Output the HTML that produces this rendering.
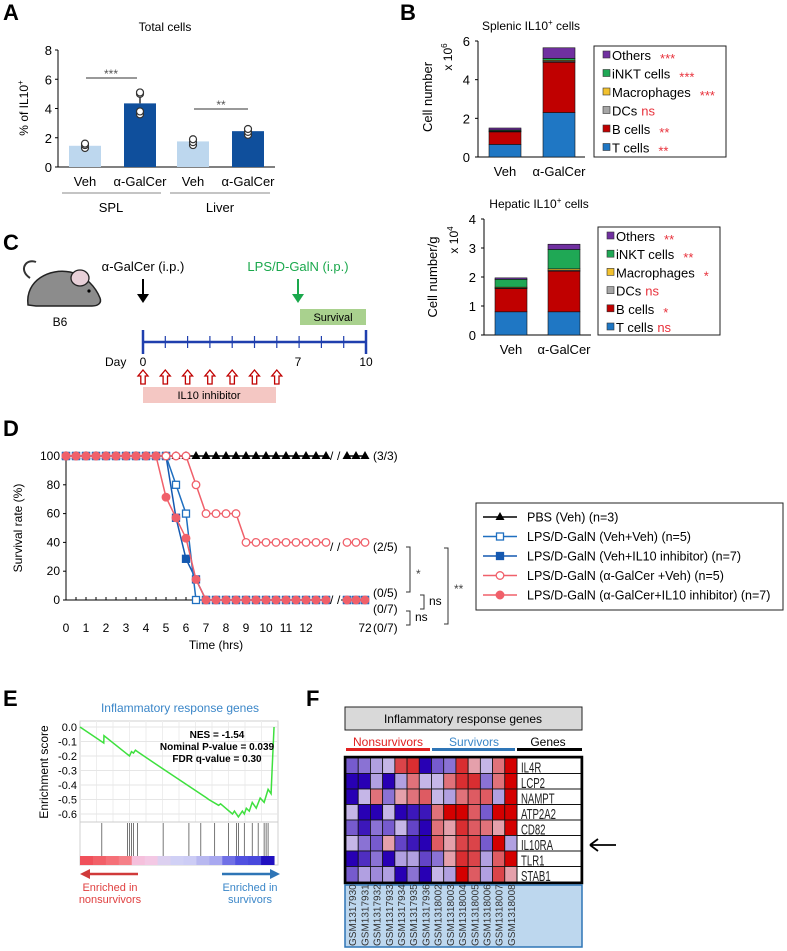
<!DOCTYPE html>
<html><head><meta charset="utf-8">
<style>
body{margin:0;background:#fff;}
svg{display:block;font-family:"Liberation Sans",Arial,sans-serif;}
</style></head>
<body>
<svg id="fig" width="787" height="951" viewBox="0 0 787 951" xmlns="http://www.w3.org/2000/svg">
<g font-weight="bold" font-size="22" fill="#000">
<text x="3" y="20">A</text>
<text x="400" y="20">B</text>
<text x="3" y="250">C</text>
<text x="3" y="436">D</text>
<text x="3" y="706">E</text>
<text x="306" y="706">F</text>
</g>
<g id="pa"></g>
<g id="pb1"></g>
<g id="pb2"></g>
<g font-size="13">
<g>
<path d="M30 278 C18 270 26 258 36 262" fill="none" stroke="#333" stroke-width="2"/>
<path d="M28 305 C25 280 50 268 70 272 C86 275 96 288 100 298 C102 303 98 306 92 306 L36 306 Z" fill="#8c8c8c" stroke="#222" stroke-width="1.5"/>
<ellipse cx="80" cy="278" rx="9" ry="8" fill="#e8d0d8" stroke="#222" stroke-width="1.3"/>
<circle cx="89" cy="291" r="1.6" fill="#000"/>
</g>
<text x="60" y="326" text-anchor="middle" font-size="12">B6</text>
<text x="143" y="271" text-anchor="middle">α-GalCer (i.p.)</text>
<line x1="143" y1="279" x2="143" y2="296" stroke="#000" stroke-width="2"/>
<polygon points="137,294 149,294 143,303" fill="#000"/>
<text x="298" y="271" text-anchor="middle" fill="#1aa84c">LPS/D-GalN (i.p.)</text>
<line x1="298" y1="279" x2="298" y2="296" stroke="#1aa84c" stroke-width="2"/>
<polygon points="292,294 304,294 298,303" fill="#1aa84c"/>
<rect x="300" y="309" width="66" height="16" fill="#a9d18e"/>
<text x="333" y="321" text-anchor="middle" font-size="11">Survival</text>
<g id="timeline"></g>
<text x="105" y="366" font-size="12">Day</text>
<text x="143" y="366" text-anchor="middle" font-size="12">0</text>
<text x="298" y="366" text-anchor="middle" font-size="12">7</text>
<text x="366" y="366" text-anchor="middle" font-size="12">10</text>
<g id="inhib"></g>
<rect x="143" y="387" width="133" height="16" fill="#f4c7c3"/>
<text x="209" y="399" text-anchor="middle" font-size="11">IL10 inhibitor</text>
</g>
<g id="pd"></g>
<g id="pe"></g>
<g id="pf"></g>
</svg>
<script>
const NS="http://www.w3.org/2000/svg";
function mk(parent,tag,attrs,text){const e=document.createElementNS(NS,tag);for(const k in attrs)e.setAttribute(k,attrs[k]);if(text!==undefined)e.textContent=text;parent.appendChild(e);return e;}

/* ---------- Panel A data ---------- */
const aCategories=["Veh","α-GalCer","Veh","α-GalCer"];
const aValues=[1.45,4.35,1.75,2.45];
const aErrors=[0.15,0.45,0.15,0.2];
const aPoints=[[1.3,1.5,1.6],[3.6,3.8,5.0,5.1],[1.5,1.7,1.9],[2.2,2.4,2.6]];
const aTicks=[0,2,4,6,8];
/* ---------- Panel B data ---------- */
const bLayers=["T cells","B cells","DCs","Macrophages","iNKT cells","Others"];
const bColors=["#1f77c4","#c00000","#a6a6a6","#f2c12e","#1fa855","#7030a0"];
const bCats=["Veh","α-GalCer"];
const splVeh=[0.65,0.65,0.02,0.03,0.05,0.1];
const splGal=[2.3,2.6,0.05,0.05,0.1,0.55];
const splSig=["**","**","ns","***","***","***"];
const splTicks=[0,2,4,6];
const hepVeh=[0.8,0.8,0.02,0.03,0.27,0.05];
const hepGal=[0.8,1.4,0.03,0.05,0.67,0.18];
const hepSig=["ns","*","ns","*","**","**"];
const hepTicks=[0,1,2,3,4];
/* ---------- Panel D data ---------- */
const dTimes=[0,0.5,1,1.5,2,2.5,3,3.5,4,4.5,5,5.5,6,6.5,7,7.5,8,8.5,9,9.5,10,10.5,11,11.5,12,12.5,13,70,71,72];
const pbsSurv=[100,100,100,100,100,100,100,100,100,100,100,100,100,100,100,100,100,100,100,100,100,100,100,100,100,100,100,100,100,100];
const vehVehSurv=[100,100,100,100,100,100,100,100,100,100,100,80,60,0,0,0,0,0,0,0,0,0,0,0,0,0,0,0,0,0];
const vehIlSurv=[100,100,100,100,100,100,100,100,100,100,100,57.1,28.6,14.3,0,0,0,0,0,0,0,0,0,0,0,0,0,0,0,0];
const galVehSurv=[100,100,100,100,100,100,100,100,100,100,100,100,100,80,60,60,60,60,40,40,40,40,40,40,40,40,40,40,40,40];
const galIlSurv=[100,100,100,100,100,100,100,100,100,100,71.4,57.1,42.9,14.3,0,0,0,0,0,0,0,0,0,0,0,0,0,0,0,0];
const dYTicks=[0,20,40,60,80,100];
const dXTicks=["0","1","2","3","4","5","6","7","8","9","10","11","12"];
/* ---------- Panel E data ---------- */
const esRank=[0,0.12,0.121,0.25,0.26,0.27,0.28,0.29,0.42,0.64,0.65,0.70,0.71,0.77,0.78,0.80,0.82,0.83,0.84,0.855,0.87,0.89,0.91,0.93,0.95,0.965,0.97,0.98];
const esScore=[0,-0.11,-0.06,-0.2,-0.17,-0.18,-0.16,-0.17,-0.29,-0.49,-0.5,-0.54,-0.53,-0.6,-0.58,-0.62,-0.58,-0.6,-0.56,-0.58,-0.52,-0.56,-0.49,-0.52,-0.43,-0.46,-0.3,0];
const esHits=[0.11,0.24,0.25,0.26,0.27,0.29,0.42,0.55,0.61,0.68,0.75,0.79,0.8,0.83,0.87,0.9,0.93,0.94,0.95];
const esTicks=[0,-0.1,-0.2,-0.3,-0.4,-0.5,-0.6];
/* ---------- Panel F data ---------- */
const fGenes=["IL4R","LCP2","NAMPT","ATP2A2","CD82","IL10RA","TLR1","STAB1"];
const fSamples=["GSM1317930","GSM1317931","GSM1317932","GSM1317933","GSM1317934","GSM1317935","GSM1317936","GSM1318002","GSM1318003","GSM1318004","GSM1318005","GSM1318006","GSM1318007","GSM1318008"];
const fIL4R=[-0.6,-0.5,-0.3,-0.2,0.7,0.8,-1,-0.6,-0.5,0.8,0.3,-0.2,0.5,1];
const fLCP2=[-1,-1,-0.3,-1,-0.3,0.5,-0.2,-0.2,0.5,0.8,0.8,-0.5,0.5,1];
const fNAMPT=[-1,-0.2,0.5,-0.5,0.3,0.5,0.6,-0.2,-0.3,0.5,0.6,0.6,-0.3,1];
const fATP2A2=[-0.2,-1,-1,-0.2,-1,-0.9,-0.9,0.5,1,1,0.6,-0.6,1,1];
const fCD82=[-0.6,-0.9,-0.5,-0.6,-0.2,-0.7,-1,0.5,0.3,0.8,0.6,0.5,0.3,1];
const fIL10RA=[-0.2,-0.5,-0.6,0.3,-0.7,-0.9,-1,0.6,0.3,0.7,0.7,-0.6,1,-0.3];
const fTLR1=[-1,-0.8,-0.5,-1,-0.3,-0.3,-0.7,-0.5,0.3,0.8,0.7,-0.3,0.6,1];
const fSTAB1=[-0.6,-0.3,-0.4,-0.3,-1,-0.5,-1,-0.2,-0.3,1,0.6,-0.3,0.7,0.3];
const fMatrix=[fIL4R,fLCP2,fNAMPT,fATP2A2,fCD82,fIL10RA,fTLR1,fSTAB1];

/* ===== Panel A ===== */
(function(){
const g=document.getElementById('pa');
const y0=167,yTop=50,ax=58;
const ys=v=>y0-(v/8)*(y0-yTop);
const barX=[69,124,177,232],bw=32,cols=["#bdd7ee","#0f4f9c","#bdd7ee","#0f4f9c"];
const t=mk(g,'text',{x:165,y:31,'text-anchor':'middle','font-size':'12'},'Total cells');

mk(g,'line',{x1:ax,y1:yTop,x2:ax,y2:y0,stroke:'#000'});
mk(g,'line',{x1:ax,y1:y0,x2:275,y2:y0,stroke:'#000'});
aTicks.forEach(v=>{mk(g,'line',{x1:ax-3,y1:ys(v),x2:ax,y2:ys(v),stroke:'#000'});
 const tl=mk(g,'text',{x:ax-6,y:ys(v)+5,'text-anchor':'end','font-size':'13'},String(v));
 });
const yl=mk(g,'text',{transform:'translate(28,108) rotate(-90)','text-anchor':'middle','font-size':'12'});
yl.innerHTML='% of IL10<tspan font-size="8" dy="-5">+</tspan>';

aValues.forEach((v,i)=>{
 const r=mk(g,'rect',{x:barX[i],y:ys(v),width:bw,height:y0-ys(v),fill:cols[i]});
 
 const cx=barX[i]+bw/2;
 mk(g,'line',{x1:cx,y1:ys(v+aErrors[i]),x2:cx,y2:ys(v),stroke:'#333','stroke-width':1.5});
 aPoints[i].forEach(p=>mk(g,'circle',{cx:cx,cy:ys(p),r:3.5,fill:'#fff',stroke:'#333','stroke-width':1.2}));
 const cl=mk(g,'text',{x:cx,y:186,'text-anchor':'middle','font-size':'13'},aCategories[i]);
 
});
mk(g,'line',{x1:62,y1:193,x2:161,y2:193,stroke:'#888'});
mk(g,'line',{x1:170,y1:193,x2:270,y2:193,stroke:'#888'});
mk(g,'text',{x:111,y:212,'text-anchor':'middle','font-size':'13'},'SPL');
mk(g,'text',{x:220,y:212,'text-anchor':'middle','font-size':'13'},'Liver');
mk(g,'line',{x1:86,y1:78,x2:137,y2:78,stroke:'#333'});
mk(g,'text',{x:111,y:78,'text-anchor':'middle','font-size':'12',fill:'#555'},'***');
mk(g,'line',{x1:194,y1:109,x2:248,y2:109,stroke:'#333'});
mk(g,'text',{x:221,y:109,'text-anchor':'middle','font-size':'12',fill:'#555'},'**');
})();

/* ===== Panel B ===== */
function stacked(gid,o,veh,gal,sig,ticks,maxV,titleTxt,ylab,expo){
const g=document.getElementById(gid);
const ys=v=>o.y0-(v/maxV)*(o.y0-o.yTop);
const tt=mk(g,'text',{x:o.titleX,y:o.titleY,'text-anchor':'middle','font-size':'12'});
tt.innerHTML=titleTxt+' IL10<tspan font-size="8" dy="-5">+</tspan><tspan dy="5"> cells</tspan>';

mk(g,'line',{x1:o.ax,y1:o.yTop,x2:o.ax,y2:o.y0,stroke:'#000'});
mk(g,'line',{x1:o.ax,y1:o.y0,x2:o.ax+107,y2:o.y0,stroke:'#000'});
ticks.forEach(v=>{mk(g,'line',{x1:o.ax-3,y1:ys(v),x2:o.ax,y2:ys(v),stroke:'#000'});
 mk(g,'text',{x:o.ax-8,y:ys(v)+5,'text-anchor':'end','font-size':'13'},String(v));});
const yl=mk(g,'text',{transform:`translate(${o.ylx},${o.yly}) rotate(-90)`,'text-anchor':'middle','font-size':'13'},ylab);

const ex=mk(g,'text',{transform:`translate(${o.exx},${o.exy}) rotate(-90)`,'text-anchor':'middle','font-size':'12'});
ex.innerHTML='x 10<tspan font-size="8" dy="-5">'+expo+'</tspan>';
[veh,gal].forEach((arr,bi)=>{
 let cum=0;
 arr.forEach((v,li)=>{
  const r=mk(g,'rect',{x:o.bx[bi],y:ys(cum+v),width:32,height:ys(cum)-ys(cum+v),fill:bColors[li],stroke:'#111','stroke-width':0.6});
  
  
  cum+=v;});
 mk(g,'text',{x:o.bx[bi]+16,y:o.y0+19,'text-anchor':'middle','font-size':'13'},bCats[bi]);
});
const lg=mk(g,'g',{});

mk(lg,'rect',{x:o.lx,y:o.ly,width:o.lw,height:o.lh,fill:'#fff',stroke:'#222','stroke-width':1});
for(let k=0;k<6;k++){
 const li=5-k,yy=o.ly+10+k*o.lstep;
 mk(lg,'rect',{x:o.lx+9,y:yy-5,width:7,height:7,fill:bColors[li],stroke:'#333','stroke-width':0.6});
 const lt=mk(lg,'text',{x:o.lx+18,y:yy+4,'font-size':'13'},bLayers[li]);
 
 const w=lt.getComputedTextLength();
 mk(lg,'text',{x:o.lx+18+w+(sig[li]==='ns'?4:9),y:yy+(sig[li]==='ns'?4:7),'font-size':sig[li]==='ns'?'13':'13',fill:'#e8303a'},sig[li]);
}
}
stacked('pb1',{y0:157,yTop:41,ax:478,bx:[489,543],titleX:531,titleY:30,ylx:432,yly:97,exx:452,exy:57,lx:594,ly:46,lw:132,lh:111,lstep:18.5},splVeh,splGal,splSig,splTicks,6,'Splenic','Cell number','6');
stacked('pb2',{y0:335,yTop:219,ax:484,bx:[495,548],titleX:539,titleY:208,ylx:437,yly:277,exx:458,exy:240,lx:598,ly:227,lw:122,lh:108,lstep:18.2},hepVeh,hepGal,hepSig,hepTicks,4,'Hepatic','Cell number/g','4');

/* ===== Panel C timeline ===== */
(function(){
const g=document.getElementById('timeline');
const dx=v=>143+v*22.3;
mk(g,'line',{x1:143,y1:342,x2:366,y2:342,stroke:'#1f3fae','stroke-width':2.5});
for(let d=0;d<=10;d++){const big=(d===0||d===10);
 mk(g,'line',{x1:dx(d),y1:big?330:336,x2:dx(d),y2:big?354:348,stroke:'#1f3fae','stroke-width':big?2.5:1.2});}
const gi=document.getElementById('inhib');
for(let d=0;d<7;d++){const x=dx(d);
 mk(gi,'path',{d:`M${x} 370 L${x+5} 376 L${x+2.2} 376 L${x+2.2} 384 L${x-2.2} 384 L${x-2.2} 376 L${x-5} 376 Z`,fill:'#fff',stroke:'#c00000','stroke-width':1.3});}
})();

/* ===== Panel D ===== */
(function(){
const g=document.getElementById('pd');
const xs=t=>t<=13?66+t*20:347+(t-70)*9;
const ys=v=>600-v*1.44;
mk(g,'line',{x1:66,y1:456,x2:66,y2:600,stroke:'#000'});
mk(g,'line',{x1:66,y1:600,x2:328,y2:600,stroke:'#000'});
mk(g,'line',{x1:341,y1:600,x2:367,y2:600,stroke:'#000'});
for(let t=0;t<=13;t+=0.5) mk(g,'line',{x1:xs(t),y1:597,x2:xs(t),y2:600,stroke:'#000'});
dYTicks.forEach(v=>{mk(g,'line',{x1:63,y1:ys(v),x2:66,y2:ys(v),stroke:'#000'});
 const tl=mk(g,'text',{x:60,y:ys(v)+4,'text-anchor':'end','font-size':'12'},String(v));
 });
dXTicks.forEach((s,i)=>{const tl=mk(g,'text',{x:xs(i),y:632,'text-anchor':'middle','font-size':'12'},s);
 });
mk(g,'text',{x:xs(72),y:632,'text-anchor':'middle','font-size':'12'},'72');
const xt=mk(g,'text',{x:216,y:649,'text-anchor':'middle','font-size':'12'},'Time (hrs)');

const yt=mk(g,'text',{transform:'translate(22,528) rotate(-90)','text-anchor':'middle','font-size':'12'},'Survival rate (%)');

function series(vals,col,marker,filled,name){
 const sg=mk(g,'g',{});
 
 let p1='',p2='';
 dTimes.forEach((t,i)=>{const pt=xs(t)+','+ys(vals[i])+' ';if(t<=13)p1+=pt;else p2+=pt;});
 mk(sg,'polyline',{points:p1,fill:'none',stroke:col,'stroke-width':1.5});
 mk(sg,'polyline',{points:p2,fill:'none',stroke:col,'stroke-width':1.5});
 dTimes.forEach((t,i)=>{const x=xs(t),y=ys(vals[i]);let m;
  if(marker==='tri')m=mk(sg,'polygon',{points:`${x},${y-5} ${x-4.5},${y+3} ${x+4.5},${y+3}`,fill:col});
  else if(marker==='sq')m=mk(sg,'rect',{x:x-3.5,y:y-3.5,width:7,height:7,fill:filled?col:'#fff',stroke:col,'stroke-width':1.3});
  else m=mk(sg,'circle',{cx:x,cy:y,r:3.8,fill:filled?col:'#fff',stroke:col,'stroke-width':1.3});
  });
}
series(pbsSurv,'#000','tri',true,'series-pbs');
series(vehIlSurv,'#1458b0','sq',true,'series-veh-il10i');
series(vehVehSurv,'#1f6fc0','sq',false,'series-veh-veh');
series(galVehSurv,'#f0606a','circ',false,'series-galcer-veh');
series(galIlSurv,'#f0606a','circ',true,'series-galcer-il10i');
['330','337'].forEach(x=>{mk(g,'text',{x:x,y:460,'font-size':'12'},'/');mk(g,'text',{x:x,y:551,'font-size':'12'},'/');mk(g,'text',{x:x,y:604,'font-size':'12'},'/');});
const ann=[['(3/3)',460],['(2/5)',551],['(0/5)',597],['(0/7)',613],['(0/7)',632]];
ann.forEach(a=>mk(g,'text',{x:373,y:a[1],'font-size':'12'},a[0]));
const br=(x,y1,y2)=>mk(g,'path',{d:`M${x-4} ${y1} H${x} V${y2} H${x-4}`,fill:'none',stroke:'#333'});
br(410,547,592);mk(g,'text',{x:416,y:578,'font-size':'12',fill:'#444'},'*');
br(424,595,609);mk(g,'text',{x:429,y:605,'font-size':'12'},'ns');
br(410,611,625);mk(g,'text',{x:415,y:621,'font-size':'12'},'ns');
br(448,548,624);mk(g,'text',{x:454,y:593,'font-size':'12',fill:'#444'},'**');
const lg=mk(g,'g',{});
mk(lg,'rect',{x:476,y:503,width:307,height:107,fill:'#fff',stroke:'#222'});
const L=[['PBS (Veh) (n=3)','#000','tri',true],['LPS/D-GalN (Veh+Veh) (n=5)','#1f6fc0','sq',false],['LPS/D-GalN (Veh+IL10 inhibitor) (n=7)','#1458b0','sq',true],['LPS/D-GalN (α-GalCer +Veh) (n=5)','#f0606a','circ',false],['LPS/D-GalN (α-GalCer+IL10 inhibitor) (n=7)','#f0606a','circ',true]];
L.forEach((e,i)=>{const y=517+i*19.5,x=500;
 mk(lg,'line',{x1:483,y1:y,x2:517,y2:y,stroke:e[1],'stroke-width':1.5});
 if(e[2]==='tri')mk(lg,'polygon',{points:`${x},${y-5} ${x-4.5},${y+3} ${x+4.5},${y+3}`,fill:e[1]});
 else if(e[2]==='sq')mk(lg,'rect',{x:x-3.5,y:y-3.5,width:7,height:7,fill:e[3]?e[1]:'#fff',stroke:e[1],'stroke-width':1.3});
 else mk(lg,'circle',{cx:x,cy:y,r:3.8,fill:e[3]?e[1]:'#fff',stroke:e[1],'stroke-width':1.3});
 const t=mk(lg,'text',{x:527,y:y+4.5,'font-size':'12.5'},e[0]);
 });
})();

/* ===== Panel E ===== */
(function(){
const g=document.getElementById('pe');
const X0=80,W=198,yTop=721,ys=v=>727-v*145,xs=f=>X0+f*W;
const t=mk(g,'text',{x:180,y:712,'text-anchor':'middle','font-size':'12',fill:'#3a86c8'},'Inflammatory response genes');

mk(g,'rect',{x:X0,y:yTop,width:W,height:144,fill:'#fff',stroke:'#d0d0d0'});
for(let i=1;i<12;i++)mk(g,'line',{x1:X0+i*W/12,y1:yTop,x2:X0+i*W/12,y2:822,stroke:'#eee'});
esTicks.forEach(v=>{mk(g,'line',{x1:X0,y1:ys(v),x2:X0+W,y2:ys(v),stroke:'#e6e6e6'});
 const tl=mk(g,'text',{x:X0-3,y:ys(v)+4,'text-anchor':'end','font-size':'11'},v.toFixed(1));
 });
mk(g,'line',{x1:X0,y1:822,x2:X0+W,y2:822,stroke:'#ccc'});
let pts='';esRank.forEach((r,i)=>pts+=xs(r)+','+ys(esScore[i])+' ');
const pl=mk(g,'polyline',{points:pts,fill:'none',stroke:'#3ee03e','stroke-width':1.5});

esHits.forEach(h=>{const l=mk(g,'line',{x1:xs(h),y1:823,x2:xs(h),y2:856,stroke:'#555','stroke-width':0.8});
 });
const bar=['#f0505a','#f26068','#f57078','#f58088','#f5c0dc','#f3c8e4','#dcd0f0','#d0d0f5','#ccccf5','#b8b8f0','#a8a8f0','#7070e6','#5050e0','#4848dc','#2010c0'];
const bw=W*0.98/bar.length;
bar.forEach((c,i)=>mk(g,'rect',{x:X0+i*bw,y:856,width:bw+0.5,height:9,fill:c}));
const yl=mk(g,'text',{transform:'translate(48,772) rotate(-90)','text-anchor':'middle','font-size':'12'},'Enrichment score');

[['NES = -1.54',738],['Nominal P-value = 0.039',750],['FDR q-value = 0.30',762]].forEach(s=>mk(g,'text',{x:217,y:s[1],'text-anchor':'middle','font-size':'10','font-weight':'bold'},s[0]));
mk(g,'line',{x1:88,y1:874,x2:138,y2:874,stroke:'#d03a3a','stroke-width':2.5});
mk(g,'polygon',{points:'80,874 90,869 90,879',fill:'#d03a3a'});
mk(g,'line',{x1:222,y1:874,x2:272,y2:874,stroke:'#2e75b6','stroke-width':2.5});
mk(g,'polygon',{points:'280,874 270,869 270,879',fill:'#2e75b6'});
mk(g,'text',{x:110,y:891,'text-anchor':'middle','font-size':'11',fill:'#e04040'},'Enriched in');
mk(g,'text',{x:110,y:903,'text-anchor':'middle','font-size':'11',fill:'#e04040'},'nonsurvivors');
mk(g,'text',{x:250,y:891,'text-anchor':'middle','font-size':'11',fill:'#3a86c8'},'Enriched in');
mk(g,'text',{x:250,y:903,'text-anchor':'middle','font-size':'11',fill:'#3a86c8'},'survivors');
})();

/* ===== Panel F ===== */
(function(){
const g=document.getElementById('pf');
mk(g,'rect',{x:345,y:707,width:237,height:23,fill:'#d9d9d9',stroke:'#222'});
const ht=mk(g,'text',{x:463,y:723,'text-anchor':'middle','font-size':'12'},'Inflammatory response genes');

mk(g,'text',{x:388,y:746,'text-anchor':'middle','font-size':'12',fill:'#e02020'},'Nonsurvivors');
mk(g,'rect',{x:346,y:748,width:84,height:3,fill:'#e02020'});
mk(g,'text',{x:474,y:746,'text-anchor':'middle','font-size':'12',fill:'#3a86c8'},'Survivors');
mk(g,'rect',{x:432,y:748,width:83,height:3,fill:'#2e75b6'});
mk(g,'text',{x:548,y:746,'text-anchor':'middle','font-size':'12'},'Genes');
mk(g,'rect',{x:517,y:748,width:65,height:3,fill:'#000'});
function col(v){const a=Math.abs(v);
 const base=[236,228,244];
 const tgt=v<0?[40,0,180]:[212,0,0];
 return 'rgb('+base.map((b,i)=>Math.round(b+(tgt[i]-b)*a)).join(',')+')';}
const x0=346,cw=171/14,y0=758,rh=124/8;
fMatrix.forEach((row,r)=>{row.forEach((v,c)=>{
 const cell=mk(g,'rect',{x:x0+c*cw,y:y0+r*rh,width:cw,height:rh,fill:col(v),stroke:'#111','stroke-width':0.8});
 });
 mk(g,'rect',{x:517,y:y0+r*rh,width:64,height:rh,fill:'#fff',stroke:'#111','stroke-width':1});
 const gl=mk(g,'text',{x:0,y:0,'font-size':'12',fill:'#222',transform:`translate(521,${y0+r*rh+rh-1}) scale(0.8,1.25)`},fGenes[r]);
 
});
mk(g,'rect',{x:345,y:757,width:237,height:126,fill:'none',stroke:'#000','stroke-width':2.5});
mk(g,'rect',{x:345,y:885,width:237,height:62,fill:'#bdd7ee',stroke:'#2e75b6','stroke-width':1.5});
fSamples.forEach((s,c)=>{const x=x0+c*cw+cw/2+4;
 const t=mk(g,'text',{transform:`translate(${x},946) rotate(-90)`,'font-size':'10',fill:'#333'},s);
 });
const ar=mk(g,'path',{d:'M590 845 H616 M590 845 L598 839 M590 845 L598 851',stroke:'#000','stroke-width':1.8,fill:'none'});

})();
</script>
</body></html>
